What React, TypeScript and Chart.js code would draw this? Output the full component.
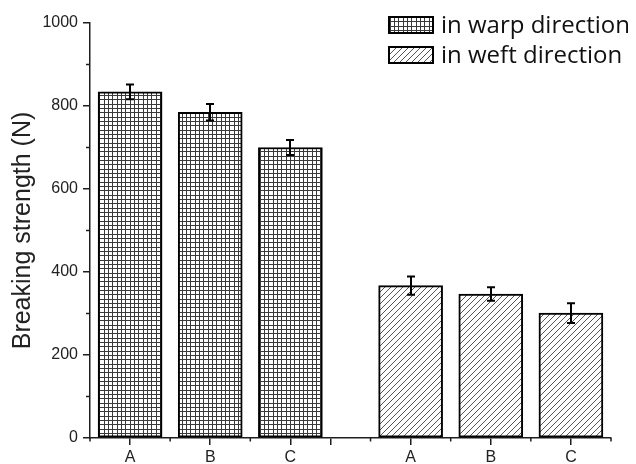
import React, { useEffect, useRef } from 'react';
import { Chart, registerables } from 'chart.js';

Chart.register(...registerables);

// ---- data ----
const groupLabels = ['A', 'B', 'C'];
const warpPositions = [1, 3, 5];
const weftPositions = [8, 10, 12];
const warpValues = [834, 785, 700];
const warpErrors = [18, 20, 18];
const weftValues = [367, 347, 301];
const weftErrors = [22, 16, 24];
const seriesNames = ['in warp direction', 'in weft direction'];
const yMajorTicks = [0, 200, 400, 600, 800, 1000];
const yMinorTicks = [100, 300, 500, 700, 900];
const xMajorTicks = [1, 3, 5, 6, 8, 10, 12];
const xMinorTicks = [0, 2, 4, 7, 9, 11, 13];

const xLabelMap: Record<number, string> = {};
warpPositions.forEach((p, i) => (xLabelMap[p] = groupLabels[i]));
weftPositions.forEach((p, i) => (xLabelMap[p] = groupLabels[i]));

const AXIS = '#1e1e1e';

function makeGridPattern(ctx: CanvasRenderingContext2D) {
  const c = document.createElement('canvas');
  c.width = 13;
  c.height = 13;
  const g = c.getContext('2d')!;
  g.fillStyle = '#ffffff';
  g.fillRect(0, 0, 13, 13);
  g.fillStyle = '#3a3a3a';
  [0, 4, 8].forEach((p) => {
    g.fillRect(p, 0, 1, 13);
    g.fillRect(0, p, 13, 1);
  });
  return ctx.createPattern(c, 'repeat')!;
}

function makeHatchPattern(ctx: CanvasRenderingContext2D) {
  const s = 6;
  const c = document.createElement('canvas');
  c.width = s;
  c.height = s;
  const g = c.getContext('2d')!;
  g.fillStyle = '#ffffff';
  g.fillRect(0, 0, s, s);
  g.strokeStyle = '#555555';
  g.lineWidth = 1;
  g.beginPath();
  g.moveTo(0, s);
  g.lineTo(s, 0);
  g.moveTo(-1, 1);
  g.lineTo(1, -1);
  g.moveTo(s - 1, s + 1);
  g.lineTo(s + 1, s - 1);
  g.stroke();
  return ctx.createPattern(c, 'repeat')!;
}

const errorBarPlugin = {
  id: 'errorBars',
  afterDatasetsDraw(chart: any) {
    const { ctx } = chart;
    const y = chart.scales.y;
    ctx.save();
    ctx.strokeStyle = '#000';
    ctx.lineWidth = 2;
    chart.data.datasets.forEach((ds: any, di: number) => {
      const meta = chart.getDatasetMeta(di);
      const errs: number[] = ds.errors || [];
      meta.data.forEach((el: any, i: number) => {
        const v = ds.data[i].y;
        const e = errs[i] || 0;
        const top = y.getPixelForValue(v + e);
        const bot = y.getPixelForValue(v - e);
        const cx = Math.round(el.x);
        ctx.beginPath();
        ctx.moveTo(cx, top);
        ctx.lineTo(cx, bot);
        ctx.moveTo(cx - 4, top);
        ctx.lineTo(cx + 4, top);
        ctx.moveTo(cx - 4, bot);
        ctx.lineTo(cx + 4, bot);
        ctx.stroke();
      });
    });
    ctx.restore();
  },
};

const minorTickPlugin = {
  id: 'minorTicks',
  afterDraw(chart: any) {
    const { ctx, chartArea } = chart;
    const { x, y } = chart.scales;
    ctx.save();
    ctx.strokeStyle = AXIS;
    ctx.lineWidth = 1.5;
    ctx.beginPath();
    yMinorTicks.forEach((v) => {
      const py = y.getPixelForValue(v);
      ctx.moveTo(chartArea.left - 4, py);
      ctx.lineTo(chartArea.left, py);
    });
    xMinorTicks.forEach((v) => {
      const px = x.getPixelForValue(v);
      ctx.moveTo(px, chartArea.bottom);
      ctx.lineTo(px, chartArea.bottom + 3.5);
    });
    ctx.stroke();
    ctx.restore();
  },
};

const legendPlugin = {
  id: 'customLegend',
  afterDraw(chart: any) {
    const { ctx, chartArea } = chart;
    ctx.save();
    const boxX = chartArea.right - 222;
    chart.data.datasets.forEach((ds: any, i: number) => {
      const by = 17 + i * 30;
      ctx.fillStyle = ds.backgroundColor;
      ctx.fillRect(boxX, by, 44, 16);
      ctx.strokeStyle = '#000';
      ctx.lineWidth = 2;
      ctx.strokeRect(boxX, by, 44, 16);
      ctx.fillStyle = '#111';
      ctx.font = '24px "Open Sans"';
      ctx.textBaseline = 'alphabetic';
      ctx.textAlign = 'left';
      ctx.fillText(ds.label, boxX + 52, by + 16);
    });
    ctx.restore();
  },
};

export default function App() {
  const ref = useRef<HTMLCanvasElement>(null);

  useEffect(() => {
    document.body.style.margin = '0';
    const canvas = ref.current!;
    const c2d = canvas.getContext('2d')!;
    const gridPat = makeGridPattern(c2d);
    const hatchPat = makeHatchPattern(c2d);

    const chart = new Chart(canvas, {
      type: 'bar',
      data: {
        datasets: [
          {
            label: seriesNames[0],
            data: warpPositions.map((p, i) => ({ x: p, y: warpValues[i] })),
            errors: warpErrors,
            backgroundColor: gridPat,
            borderColor: '#000',
            borderWidth: 2,
            borderSkipped: false,
            grouped: false,
            barThickness: 64,
          } as any,
          {
            label: seriesNames[1],
            data: weftPositions.map((p, i) => ({ x: p, y: weftValues[i] })),
            errors: weftErrors,
            backgroundColor: hatchPat,
            borderColor: '#000',
            borderWidth: 2,
            borderSkipped: false,
            grouped: false,
            barThickness: 64,
          } as any,
        ],
      },
      options: {
        animation: false,
        responsive: true,
        maintainAspectRatio: false,
        layout: { padding: { top: 23, right: 25, left: 0, bottom: 0 } },
        plugins: {
          legend: { display: false },
          tooltip: { enabled: false },
        },
        scales: {
          x: {
            type: 'linear',
            min: 0,
            max: 13,
            offset: false,
            afterFit: (s: any) => {
              s.height = 26;
            },
            afterBuildTicks: (s: any) => {
              s.ticks = [...xMajorTicks, ...xMinorTicks]
                .sort((a, b) => a - b)
                .map((v) => ({ value: v }));
            },
            ticks: {
              autoSkip: false,
              maxRotation: 0,
              padding: 3,
              color: '#222',
              font: { family: '"Liberation Sans", Arial, sans-serif', size: 16 },
              callback: (v: any) => xLabelMap[v] ?? '',
            },
            grid: {
              offset: false,
              drawOnChartArea: false,
              drawTicks: true,
              tickLength: 7,
              lineWidth: 1.5,
              color: (c: any) =>
                xMajorTicks.includes(c.tick?.value) ? AXIS : 'rgba(0,0,0,0)',
            },
            border: { display: true, color: AXIS, width: 1.5 },
          },
          y: {
            type: 'linear',
            min: 0,
            max: 1000,
            afterFit: (s: any) => {
              s.width = 90;
            },
            afterBuildTicks: (s: any) => {
              s.ticks = yMajorTicks.map((v) => ({ value: v }));
            },
            ticks: {
              padding: 5,
              color: '#222',
              font: { family: '"Liberation Sans", Arial, sans-serif', size: 16 },
              callback: (v: any) => String(v),
            },
            grid: {
              drawOnChartArea: false,
              drawTicks: true,
              tickLength: 7,
              lineWidth: 1.5,
              color: AXIS,
            },
            border: { display: true, color: AXIS, width: 1.5 },
            title: {
              display: true,
              text: 'Breaking strength (N)',
              color: '#222',
              font: { family: '"Liberation Sans", Arial, sans-serif', size: 25 },
              padding: { top: 8, bottom: 0 },
            },
          },
        },
      },
      plugins: [errorBarPlugin, minorTickPlugin, legendPlugin],
    } as any);

    return () => chart.destroy();
  }, []);

  return (
    <div style={{ width: 636, height: 464, position: 'relative' }}>
      <canvas ref={ref} />
    </div>
  );
}
